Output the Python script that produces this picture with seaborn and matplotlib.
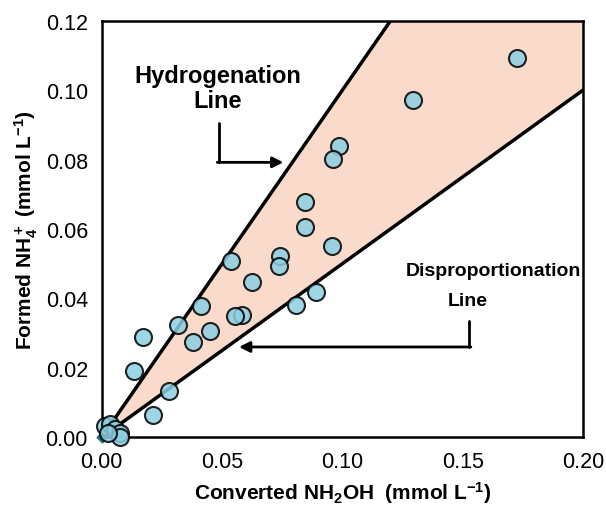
import numpy as np
import pandas as pd
import matplotlib
matplotlib.use("Agg")
import matplotlib.pyplot as plt
import seaborn as sns

# Converted NH2OH vs formed NH4+ (mmol/L)
converted = [0.1726, 0.1293, 0.0985, 0.0961, 0.0844, 0.0844, 0.0958,
             0.0539, 0.0740, 0.0737, 0.0625, 0.0890, 0.0809, 0.0412,
             0.0581, 0.0553, 0.0317, 0.0449, 0.0380, 0.0172, 0.0134,
             0.0279, 0.0213, 0.0012, 0.0033, 0.0054, 0.0075, 0.0075, 0.0026]
formed = [0.1093, 0.0972, 0.0840, 0.0802, 0.0678, 0.0606, 0.0551,
          0.0509, 0.0523, 0.0494, 0.0448, 0.0417, 0.0381, 0.0379,
          0.0352, 0.0348, 0.0324, 0.0305, 0.0275, 0.0290, 0.0191,
          0.0132, 0.0064, 0.0033, 0.0039, 0.0023, 0.0013, 0.0000, 0.0013]

# reference lines: hydrogenation (1:1) and disproportionation (2:1)
line_x = [0.0, 0.20]
hydro_slope = 1.0
dispro_slope = 0.5

x_ticks = [0.00, 0.05, 0.10, 0.15, 0.20]
y_ticks = [0.00, 0.02, 0.04, 0.06, 0.08, 0.10, 0.12]

sns.set_style("white")
plt.rcParams['font.family'] = ['Liberation Sans', 'DejaVu Sans']
plt.rcParams['text.color'] = 'black'
plt.rcParams['axes.labelcolor'] = 'black'
plt.rcParams['xtick.color'] = 'black'
plt.rcParams['ytick.color'] = 'black'
plt.rcParams['mathtext.fontset'] = 'custom'
plt.rcParams['mathtext.rm'] = 'Liberation Sans'
plt.rcParams['mathtext.bf'] = 'Liberation Sans:bold'
plt.rcParams['mathtext.default'] = 'bf'

df = pd.DataFrame({"converted": converted, "formed": formed})

fig = plt.figure(figsize=(6.06, 5.06), dpi=100)
ax = fig.add_axes([0.168, 0.134, 0.794, 0.823])

lx = np.array(line_x)
ax.fill_between(lx, dispro_slope * lx, hydro_slope * lx, color="#f9dacb", zorder=1)
ax.plot(lx, hydro_slope * lx, color="black", lw=2.5, zorder=2)
ax.plot(lx, dispro_slope * lx, color="black", lw=2.5, zorder=2)

ax.scatter([0], [0], marker="D", s=30, color="#1d6f86", zorder=2, clip_on=False)
sns.scatterplot(data=df, x="converted", y="formed", ax=ax, s=150,
                color="#8ccfe2", edgecolor="black", linewidth=1.5,
                alpha=0.85, zorder=3, clip_on=False)

ax.set_xlim(0, 0.20)
ax.set_ylim(0, 0.12)
ax.set_xticks(x_ticks)
ax.set_yticks(y_ticks)
ax.set_xticklabels([f"{v:.2f}" for v in x_ticks])
ax.set_yticklabels([f"{v:.2f}" for v in y_ticks])
ax.tick_params(axis="both", direction="out", length=6, width=1.5,
               labelsize=15.5, color="black", pad=4)
for sp in ax.spines.values():
    sp.set_linewidth(1.8)
    sp.set_color("black")

ax.set_xlabel(r"Converted NH$_2$OH  (mmol L$^{-1}$)",
              fontsize=15, fontweight="bold", labelpad=5)
ax.set_ylabel(r"Formed NH$_4^+$ (mmol L$^{-1}$)",
              fontsize=15, fontweight="bold", labelpad=4)

# annotations
ax.text(0.0482, 0.1007, "Hydrogenation\nLine", ha="center", va="center",
        fontsize=17, fontweight="bold", linespacing=1.1)
ax.plot([0.0488, 0.0488], [0.0905, 0.0792], color="black", lw=2)
ax.annotate("", xy=(0.0755, 0.0792), xytext=(0.0480, 0.0792),
            arrowprops=dict(arrowstyle="-|>", color="black", lw=2,
                            mutation_scale=16, shrinkA=0, shrinkB=0))

ax.text(0.1626, 0.0479, "Disproportionation", ha="center", va="center",
        fontsize=14, fontweight="bold")
ax.text(0.1522, 0.0395, "Line", ha="center", va="center",
        fontsize=14, fontweight="bold")
ax.plot([0.1526, 0.1526], [0.0335, 0.0260], color="black", lw=2)
ax.annotate("", xy=(0.0570, 0.0260), xytext=(0.1534, 0.0260),
            arrowprops=dict(arrowstyle="-|>", color="black", lw=2,
                            mutation_scale=16, shrinkA=0, shrinkB=0))

fig.savefig("out.png", dpi=100)
